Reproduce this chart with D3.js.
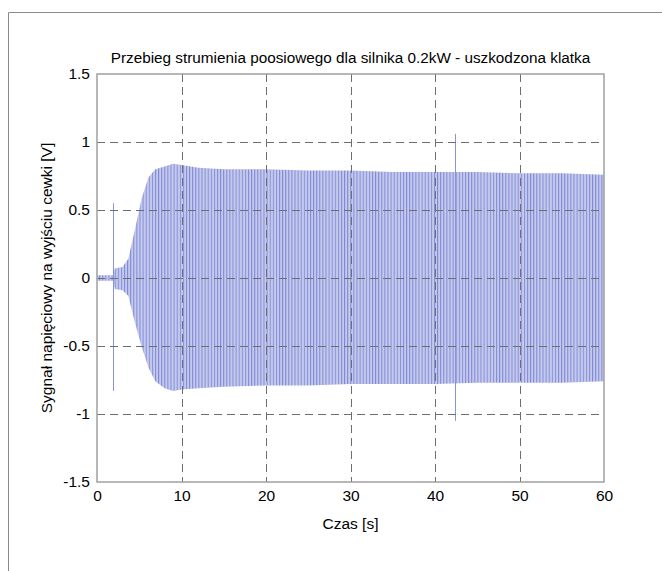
<!DOCTYPE html>
<html>
<head>
<meta charset="utf-8">
<script src="https://cdn.jsdelivr.net/npm/d3@7"></script>
<style>
body { margin: 0; background: #fff; }
text { font-family: Arial, "Liberation Sans", sans-serif; fill: #000; }
</style>
</head>
<body>
<script>
// envelope of the signal (time in s, volts)
var timeS  = [0, 1.9, 2.1, 3.0, 3.7, 4.5, 5.3, 6.1, 6.9, 8.0, 9.0, 10.0, 12, 15, 20, 25, 30, 35, 40, 45, 50, 55, 60];
var upperV = [0.02, 0.02, 0.07, 0.08, 0.14, 0.36, 0.59, 0.74, 0.80, 0.82, 0.84, 0.83, 0.81, 0.80, 0.80, 0.79, 0.79, 0.78, 0.78, 0.78, 0.77, 0.77, 0.76];
var lowerV = [-0.02, -0.02, -0.08, -0.09, -0.13, -0.33, -0.51, -0.66, -0.76, -0.81, -0.83, -0.82, -0.81, -0.80, -0.79, -0.79, -0.78, -0.78, -0.78, -0.77, -0.77, -0.77, -0.76];

// single spikes
var spikeTimes  = [1.95, 42.4];
var spikeTop    = [0.55, 1.06];
var spikeBottom = [-0.83, -1.05];

var xTicks = [0, 10, 20, 30, 40, 50, 60];
var yTicks = [-1.5, -1, -0.5, 0, 0.5, 1, 1.5];
var xGrid = [10, 20, 30, 40, 50];
var yGrid = [-1, -0.5, 0, 0.5, 1];

(function() {
	var width = 662,
		height = 571,
		plotL = 97, plotR = 604, plotT = 74, plotB = 482;

	var svg = d3.select("body").append("svg")
		.attr("width", width)
		.attr("height", height);

	// page frame
	svg.append("path")
		.attr("d", "M8.5," + height + "V12.5H" + width)
		.attr("fill", "none")
		.attr("stroke", "#8c8c8c")
		.attr("stroke-width", 1);

	var x = d3.scaleLinear().domain([0, 60]).range([plotL, plotR]);
	var y = d3.scaleLinear().domain([-1.5, 1.5]).range([plotB, plotT]);

	var pat = svg.append("defs").append("pattern")
		.attr("id", "osc")
		.attr("patternUnits", "userSpaceOnUse")
		.attr("width", 3.1)
		.attr("height", 10);
	pat.append("rect")
		.attr("width", 3.1)
		.attr("height", 10)
		.attr("fill", "#c5caec");
	pat.append("rect")
		.attr("width", 1)
		.attr("height", 10)
		.attr("fill", "#7f89d6");

	var env = timeS.map(function(t, i) { return {t: t, hi: upperV[i], lo: lowerV[i]}; });

	var area = d3.area()
		.x(function(d) { return x(d.t); })
		.y0(function(d) { return y(d.lo); })
		.y1(function(d) { return y(d.hi); });

	svg.append("path")
		.datum(env)
		.attr("d", area)
		.attr("fill", "url(#osc)");

	var spikes = spikeTimes.map(function(t, i) { return {t: t, hi: spikeTop[i], lo: spikeBottom[i]}; });
	svg.selectAll("line.spike").data(spikes).enter()
		.append("line")
		.classed("spike", true)
		.attr("x1", function(d) { return Math.round(x(d.t)) + 0.5; })
		.attr("x2", function(d) { return Math.round(x(d.t)) + 0.5; })
		.attr("y1", function(d) { return y(d.hi); })
		.attr("y2", function(d) { return y(d.lo); })
		.attr("stroke", "#8a93d8")
		.attr("stroke-width", 1);

	// grid
	var grid = svg.append("g")
		.attr("stroke", "#6e6e6e")
		.attr("stroke-width", 1)
		.attr("stroke-dasharray", "8,5");
	grid.selectAll("line.gx").data(xGrid).enter()
		.append("line")
		.attr("x1", function(d) { return Math.round(x(d)) + 0.5; })
		.attr("x2", function(d) { return Math.round(x(d)) + 0.5; })
		.attr("y1", plotT)
		.attr("y2", plotB);
	grid.selectAll("line.gy").data(yGrid).enter()
		.append("line")
		.attr("y1", function(d) { return Math.round(y(d)) + 0.5; })
		.attr("y2", function(d) { return Math.round(y(d)) + 0.5; })
		.attr("x1", plotL)
		.attr("x2", plotR);

	// axes box
	svg.append("rect")
		.attr("x", plotL)
		.attr("y", plotT)
		.attr("width", plotR - plotL)
		.attr("height", plotB - plotT)
		.attr("fill", "none")
		.attr("stroke", "#a0a0a0")
		.attr("stroke-width", 1.5);

	var xAxis = svg.append("g")
		.attr("transform", "translate(0," + plotB + ")")
		.call(d3.axisBottom(x).tickValues(xTicks).tickSize(0).tickPadding(8).tickFormat(d3.format("d")));
	xAxis.select(".domain").remove();
	xAxis.selectAll("text").style("font-size", "15.5px");

	var yAxis = svg.append("g")
		.attr("transform", "translate(" + plotL + ",0)")
		.call(d3.axisLeft(y).tickValues(yTicks).tickSize(0).tickPadding(7).tickFormat(function(d) { return String(d); }));
	yAxis.select(".domain").remove();
	yAxis.selectAll("text").style("font-size", "15.5px");

	svg.append("text")
		.attr("x", (plotL + plotR) / 2)
		.attr("y", 63)
		.attr("text-anchor", "middle")
		.style("font-size", "15.3px")
		.text("Przebieg strumienia poosiowego dla silnika 0.2kW - uszkodzona klatka");

	svg.append("text")
		.attr("x", (plotL + plotR) / 2)
		.attr("y", 529)
		.attr("text-anchor", "middle")
		.style("font-size", "15.5px")
		.text("Czas [s]");

	svg.append("text")
		.attr("transform", "translate(52," + (plotT + plotB) / 2 + ") rotate(-90)")
		.attr("text-anchor", "middle")
		.style("font-size", "15.5px")
		.text("Sygnał napięciowy na wyjściu cewki [V]");
}());
</script>
</body>
</html>
